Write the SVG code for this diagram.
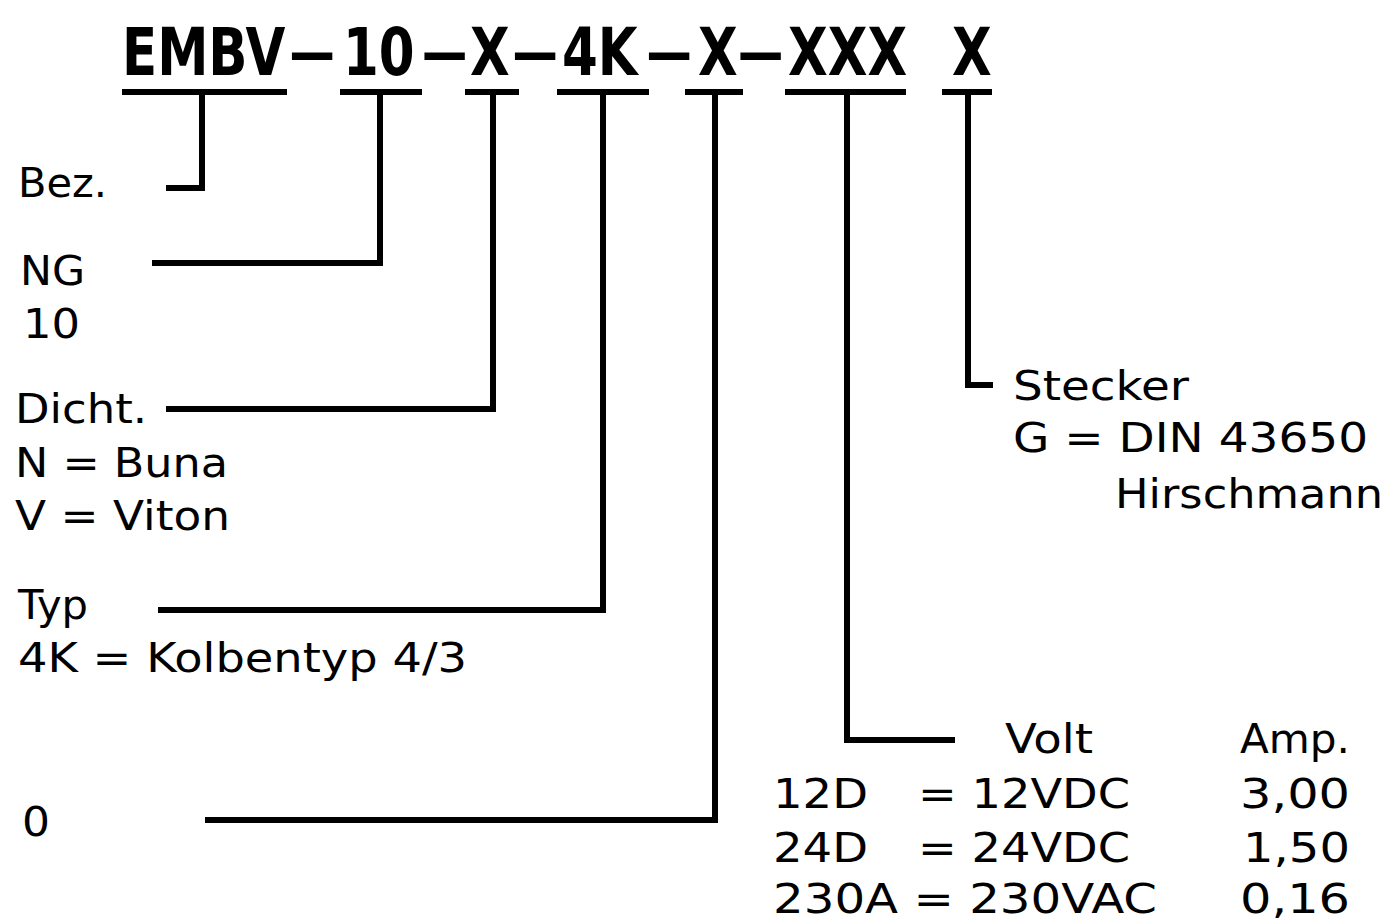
<svg xmlns="http://www.w3.org/2000/svg" width="1390" height="922" viewBox="0 0 1390 922">
<style>
.ti{font-family:"DejaVu Sans","Liberation Sans",sans-serif;font-weight:bold;font-size:66px;fill:#000}
.d{font-size:58px}
.t{font-family:"DejaVu Sans","Liberation Sans",sans-serif;font-size:40px;fill:#000}
.ul{stroke:#000;stroke-width:6;fill:none}
.c{stroke:#000;stroke-width:6;fill:none;stroke-linejoin:miter;stroke-linecap:butt}
</style>
<rect width="1390" height="922" fill="#fff"/>
<g id="title">
<text class="ti" transform="scale(0.78 1)" y="75"><tspan x="156.4" y="75">EMBV</tspan><tspan class="d" x="371.2" y="72">—</tspan><tspan x="439.7" y="75">10</tspan><tspan class="d" x="541" y="72">—</tspan><tspan x="602.6" y="75">X</tspan><tspan class="d" x="657.1" y="72">—</tspan><tspan x="720.5" y="75">4K</tspan><tspan class="d" x="828.8" y="72">—</tspan><tspan x="894.9" y="75">X</tspan><tspan class="d" x="946.2" y="72">—</tspan><tspan x="1010.3" y="75">XXX</tspan><tspan x="1220.5" y="75">X</tspan></text>
</g>
<g id="underlines">
<line class="ul" x1="122" y1="92" x2="287" y2="92"/>
<line class="ul" x1="340" y1="92" x2="422" y2="92"/>
<line class="ul" x1="465" y1="92" x2="519" y2="92"/>
<line class="ul" x1="557" y1="92" x2="649" y2="92"/>
<line class="ul" x1="685" y1="92" x2="743" y2="92"/>
<line class="ul" x1="785" y1="92" x2="906" y2="92"/>
<line class="ul" x1="942" y1="92" x2="992" y2="92"/>
</g>
<g id="connectors">
<path class="c" d="M202 92 V188 H166"/>
<path class="c" d="M380 92 V263 H152"/>
<path class="c" d="M493 92 V409 H166"/>
<path class="c" d="M603 92 V610 H158"/>
<path class="c" d="M715 92 V820 H205"/>
<path class="c" d="M847 92 V740 H955"/>
<path class="c" d="M968 92 V385 H993"/>
</g>
<g id="bez"><text class="t" x="18" y="197" textLength="89" lengthAdjust="spacingAndGlyphs">Bez.</text></g>
<g id="ng">
<text class="t" x="20" y="285" textLength="65" lengthAdjust="spacingAndGlyphs">NG</text>
<text class="t" x="23" y="338" textLength="57" lengthAdjust="spacingAndGlyphs">10</text>
</g>
<g id="dicht">
<text class="t" x="15" y="423" textLength="132" lengthAdjust="spacingAndGlyphs">Dicht.</text>
<text class="t" x="15" y="477" textLength="213" lengthAdjust="spacingAndGlyphs">N = Buna</text>
<text class="t" x="15" y="530" textLength="215" lengthAdjust="spacingAndGlyphs">V = Viton</text>
</g>
<g id="typ">
<text class="t" x="18" y="619" textLength="70" lengthAdjust="spacingAndGlyphs">Typ</text>
<text class="t" x="18" y="672" textLength="449" lengthAdjust="spacingAndGlyphs">4K = Kolbentyp 4/3</text>
</g>
<g id="null"><text class="t" x="22" y="836" textLength="28" lengthAdjust="spacingAndGlyphs">0</text></g>
<g id="stecker">
<text class="t" x="1013" y="400" textLength="176" lengthAdjust="spacingAndGlyphs">Stecker</text>
<text class="t" x="1013" y="452" textLength="355" lengthAdjust="spacingAndGlyphs">G = DIN 43650</text>
<text class="t" x="1115" y="508" textLength="268" lengthAdjust="spacingAndGlyphs">Hirschmann</text>
</g>
<g id="spannung">
<text class="t" x="1005" y="753" textLength="88" lengthAdjust="spacingAndGlyphs">Volt</text>
<text class="t" x="1240" y="753" textLength="110" lengthAdjust="spacingAndGlyphs">Amp.</text>
<text class="t" x="773" y="808" textLength="95" lengthAdjust="spacingAndGlyphs">12D</text>
<text class="t" x="918" y="808" textLength="212" lengthAdjust="spacingAndGlyphs">= 12VDC</text>
<text class="t" x="1240" y="808" textLength="110" lengthAdjust="spacingAndGlyphs">3,00</text>
<text class="t" x="773" y="862" textLength="95" lengthAdjust="spacingAndGlyphs">24D</text>
<text class="t" x="918" y="862" textLength="212" lengthAdjust="spacingAndGlyphs">= 24VDC</text>
<text class="t" x="1243" y="862" textLength="107" lengthAdjust="spacingAndGlyphs">1,50</text>
<text class="t" x="773" y="913" textLength="384" lengthAdjust="spacingAndGlyphs">230A = 230VAC</text>
<text class="t" x="1240" y="913" textLength="110" lengthAdjust="spacingAndGlyphs">0,16</text>
</g>
</svg>
